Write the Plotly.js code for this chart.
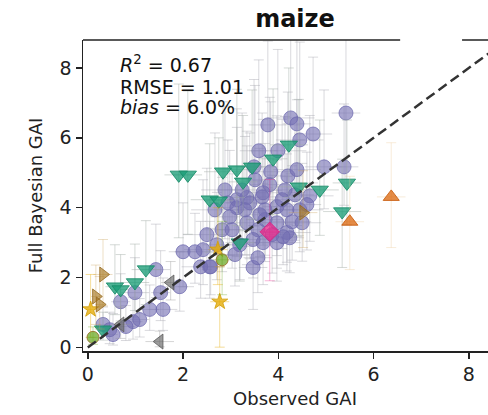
<!DOCTYPE html>
<html>
<head>
<meta charset="utf-8">
<script src="https://cdn.plot.ly/plotly-3.0.1.min.js"></script>
<style>
html,body{margin:0;padding:0;overflow:hidden;background:#fff;}
#chart{width:510px;height:415px;}
</style>
</head>
<body>
<div id="chart"></div>
<script>
// ---- data ----
const purpleX = [3.78,4.26,4.39,4.45,4.73,5.42,3.59,3.99,3.49,3.84, 4.20,4.39,4.96,5.38,4.66,3.68,3.13,3.34,4.50,3.47, 2.67,2.94,3.13,3.40,3.66,3.72,3.97,4.18,4.45,4.60, 2.98,3.34,3.57,3.97,4.18,4.24,3.68,3.47,2.50,2.82, 3.03,2.42,2.56,3.97,4.10,2.00,2.25,1.43,1.93,1.53, 1.58,0.69,0.99,0.95,0.80,0.53,0.32,2.37,2.58,3.24, 3.82,3.51,4.14,3.72,3.19,4.35,3.87,3.61,3.30,4.08, 0.46,1.09,1.30,3.09,2.71,2.88,4.29,3.57];
const purpleY = [6.37,6.57,6.40,5.94,6.11,6.71,5.63,5.63,5.17,5.03, 4.91,5.09,5.17,5.17,4.34,4.43,4.23,4.29,3.57,2.29, 3.94,4.14,4.00,4.14,4.31,3.94,4.03,3.94,3.94,4.09, 3.74,3.57,3.37,3.57,3.29,3.14,3.00,3.09,3.23,3.37, 3.37,2.80,2.31,3.00,3.17,2.74,2.74,2.23,1.74,1.57, 1.09,1.31,1.57,0.74,0.60,0.37,0.66,2.31,2.31,4.51, 4.66,4.80,4.51,3.66,2.94,4.37,3.23,3.80,3.94,4.23, 0.51,0.80,1.09,2.66,2.94,4.51,3.60,2.57];
const purpleErrUp = [2.4,2.3,2.5,2.8,2.2,2.5,2.6,2.9,2.5,2.0, 2.4,2.0,2.2,1.8,2.3,2.1,2.6,1.9,1.7,1.2, 2.2,1.8,2.3,2.0,2.4,1.9,2.6,1.6,2.0,1.5, 1.9,2.2,1.4,1.8,1.6,1.3,1.7,2.0,1.9,1.5, 1.6,2.0,1.3,1.5,1.2,1.4,1.1,1.3,1.0,1.2, 0.9,0.8,1.0,0.7,0.6,0.6,0.5,1.3,1.1,2.2, 2.5,2.7,2.1,1.8,1.4,2.0,1.7,1.9,2.1,2.3, 0.5,0.6,0.7,1.2,1.5,2.4,1.6,1.3];
const purpleErrDn = [1.8,1.6,1.7,1.5,1.4,1.9,1.5,1.6,1.7,1.3, 1.4,1.6,1.2,1.1,1.3,1.5,1.6,1.4,1.1,1.2, 1.3,1.5,1.4,1.6,1.2,1.3,1.4,1.5,1.2,1.3, 1.1,1.2,1.0,1.3,1.1,1.0,1.2,1.1,1.0,1.2, 1.1,1.0,0.9,1.1,0.8,1.0,0.9,0.8,0.7,0.8, 0.6,0.6,0.7,0.5,0.4,0.3,0.3,0.9,0.8,1.4, 1.5,1.3,1.4,1.2,1.0,1.3,1.1,1.2,1.3,1.4, 0.4,0.5,0.6,0.9,1.0,1.4,1.1,1.0];
const purpleErrX = [0.4,0.5,0.3,0.5,0.4,0.3,0.4,0.6,0.5,0.4, 0.3,0.5,0.4,0.3,0.5,0.4,0.6,0.3,0.4,0.3, 0.5,0.4,0.3,0.5,0.4,0.6,0.3,0.4,0.5,0.3, 0.4,0.5,0.3,0.4,0.5,0.3,0.4,0.3,0.5,0.4, 0.3,0.4,0.3,0.5,0.4,0.3,0.4,0.3,0.3,0.2, 0.3,0.2,0.3,0.2,0.2,0.1,0.1,0.4,0.3,0.5, 0.4,0.3,0.5,0.4,0.3,0.4,0.5,0.3,0.4,0.5, 0.1,0.2,0.2,0.4,0.3,0.5,0.4,0.3];

const tealX = [4.22,3.89,4.43,4.87,5.44,5.34,1.91,2.10,2.84,3.13,3.26,3.45,2.56,2.75,3.19,1.22,0.57,0.69,0.99,0.32];
const tealY = [5.80,5.40,4.60,4.51,4.71,3.89,4.94,4.94,5.03,5.09,4.74,5.17,4.23,4.20,3.00,2.23,1.74,1.66,1.86,0.51];
const tealErrUp = [2.2,2.0,2.5,2.0,1.8,1.5,2.6,2.4,2.0,2.3,1.9,2.2,1.6,1.8,1.3,1.4,1.2,1.0,1.1,0.5];
const tealErrDn = [1.5,1.6,1.4,1.3,1.2,1.6,1.8,1.7,1.5,1.6,1.4,1.5,1.5,1.4,1.1,1.0,0.8,0.9,0.8,0.3];
const tealErrX = [0.4,0.3,0.5,0.4,0.3,0.4,0.3,0.3,0.4,0.4,0.3,0.3,0.4,0.3,0.3,0.3,0.2,0.2,0.3,0.1];

const orangeX = [6.37,5.50];
const orangeY = [4.31,3.60];
const orangeErrUp = [1.55,1.3];
const orangeErrDn = [1.45,1.37];
const orangeErrX = [0.3,0.3];

const pinkX = [3.82];
const pinkY = [3.31];
const pinkErrUp = [1.5];
const pinkErrDn = [1.4];
const pinkErrX = [0.2];

const yellowX = [2.73,2.77,0.06];
const yellowY = [2.80,1.31,1.09];
const yellowErrUp = [1.2,1.0,1.0];
const yellowErrDn = [1.0,1.3,0.8];
const yellowErrX = [0.2,0.2,0.1];

const limeX = [2.82,0.11];
const limeY = [2.51,0.29];
const limeErrUp = [1.1,0.3];
const limeErrDn = [1.0,0.2];
const limeErrX = [0.2,0.1];

const brownX = [0.32,0.17,0.25,4.52];
const brownY = [2.09,1.46,1.23,3.86];
const brownErrUp = [1.0,0.9,0.8,1.2];
const brownErrDn = [0.9,0.8,0.7,1.0];
const brownErrX = [0.2,0.1,0.1,0.3];

const grayX = [1.51,1.74,0.69];
const grayY = [0.17,1.86,0.66];
const grayErrUp = [0.3,0.6,0.5];
const grayErrDn = [0.15,0.5,0.4];
const grayErrX = [0.3,0.2,0.2];

const oneToOne = [0, 8.8];
const xTicks = [0, 2, 4, 6, 8];
const yTicks = [0, 2, 4, 6, 8];
const axisRange = [-0.1, 8.8];

// ---- traces ----
function series(x, y, up, dn, ex, symbol, size, fill, edge, errColor) {
  return {
    type: 'scatter', mode: 'markers', x: x, y: y, showlegend: false,
    marker: {symbol: symbol, size: size, color: fill, line: {color: edge, width: 1}},
    error_y: {type: 'data', symmetric: false, array: up, arrayminus: dn, color: errColor, thickness: 1, width: 5},
    error_x: {type: 'data', array: ex, color: errColor, thickness: 1, width: 0}
  };
}

const traces = [
  series(purpleX, purpleY, purpleErrUp, purpleErrDn, purpleErrX, 'circle', 14,
         'rgba(117,112,179,0.62)', 'rgba(110,105,175,0.75)', 'rgba(170,170,180,0.45)'),
  series(tealX, tealY, tealErrUp, tealErrDn, tealErrX, 'triangle-down', 15,
         'rgba(27,158,119,0.78)', 'rgba(25,140,105,0.85)', 'rgba(160,170,165,0.45)'),
  series(orangeX, orangeY, orangeErrUp, orangeErrDn, orangeErrX, 'triangle-up', 14,
         'rgba(217,95,2,0.72)', 'rgba(200,90,10,0.85)', 'rgba(235,200,150,0.35)'),
  series(pinkX, pinkY, pinkErrUp, pinkErrDn, pinkErrX, 'diamond', 15,
         'rgba(231,41,138,0.78)', 'rgba(210,40,130,0.85)', 'rgba(231,41,138,0.35)'),
  series(yellowX, yellowY, yellowErrUp, yellowErrDn, yellowErrX, 'star', 12,
         'rgba(230,171,2,0.78)', 'rgba(210,160,10,0.85)', 'rgba(230,171,2,0.4)'),
  series(limeX, limeY, limeErrUp, limeErrDn, limeErrX, 'circle', 12,
         'rgba(102,166,30,0.72)', 'rgba(150,110,40,0.85)', 'rgba(102,166,30,0.35)'),
  series(brownX, brownY, brownErrUp, brownErrDn, brownErrX, 'triangle-right', 13,
         'rgba(166,118,29,0.65)', 'rgba(150,105,30,0.8)', 'rgba(200,160,90,0.35)'),
  series(grayX, grayY, grayErrUp, grayErrDn, grayErrX, 'triangle-left', 13,
         'rgba(102,102,102,0.65)', 'rgba(90,90,90,0.8)', 'rgba(150,150,150,0.4)'),
  {type: 'scatter', mode: 'lines', x: oneToOne, y: oneToOne, showlegend: false,
   line: {color: '#333', width: 2.5, dash: '10px,5px'}, hoverinfo: 'skip'}
];

const font = {family: 'DejaVu Sans, sans-serif', color: '#222'};

const layout = {
  width: 510, height: 415,
  margin: {l: 83, r: 3, t: 40, b: 64},
  paper_bgcolor: '#fff', plot_bgcolor: '#fff',
  font: {family: font.family, size: 18, color: '#222'},
  title: {text: '<b>maize</b>', font: {family: font.family, size: 24, color: '#111'},
          x: 0.5, xref: 'paper', xanchor: 'center', y: 0.955, yref: 'container', yanchor: 'middle'},
  xaxis: {range: axisRange, tickvals: xTicks, ticktext: xTicks.map(String),
          showgrid: false, zeroline: false, showline: true, linecolor: '#222', linewidth: 1.5,
          ticks: 'outside', ticklen: 6, tickwidth: 1.5, tickcolor: '#222',
          tickfont: {family: font.family, size: 19, color: '#222'},
          title: {text: 'Observed GAI', font: {family: font.family, size: 18, color: '#222'}, standoff: 8}},
  yaxis: {range: axisRange, tickvals: yTicks, ticktext: yTicks.map(String),
          showgrid: false, zeroline: false, showline: true, linecolor: '#222', linewidth: 1.5,
          ticks: 'outside', ticklen: 6, tickwidth: 1.5, tickcolor: '#222',
          tickfont: {family: font.family, size: 19, color: '#222'},
          title: {text: 'Full Bayesian GAI', font: {family: font.family, size: 18, color: '#222'}, standoff: 12}},
  shapes: [
    {type: 'line', xref: 'paper', yref: 'paper', x0: 0, x1: 0.748, y0: 1, y1: 1, line: {color: '#222', width: 1.5}},
    {type: 'line', xref: 'paper', yref: 'paper', x0: 0.894, x1: 1, y0: 1, y1: 1, line: {color: '#222', width: 1.5}}
  ],
  annotations: [
    {xref: 'paper', yref: 'paper', x: 0.083, y: 1 - (64 - 40) / 311, xanchor: 'left', yanchor: 'middle',
     text: '<i>R</i><sup>2</sup> = 0.67', showarrow: false, font: {family: font.family, size: 19, color: '#111'}},
    {xref: 'paper', yref: 'paper', x: 0.083, y: 1 - (87 - 40) / 311, xanchor: 'left', yanchor: 'middle',
     text: 'RMSE = 1.01', showarrow: false, font: {family: font.family, size: 19, color: '#111'}},
    {xref: 'paper', yref: 'paper', x: 0.083, y: 1 - (107 - 40) / 311, xanchor: 'left', yanchor: 'middle',
     text: '<i>bias</i> = 6.0%', showarrow: false, font: {family: font.family, size: 19, color: '#111'}}
  ]
};

Plotly.newPlot('chart', traces, layout, {displayModeBar: false, staticPlot: true});
</script>
</body>
</html>
